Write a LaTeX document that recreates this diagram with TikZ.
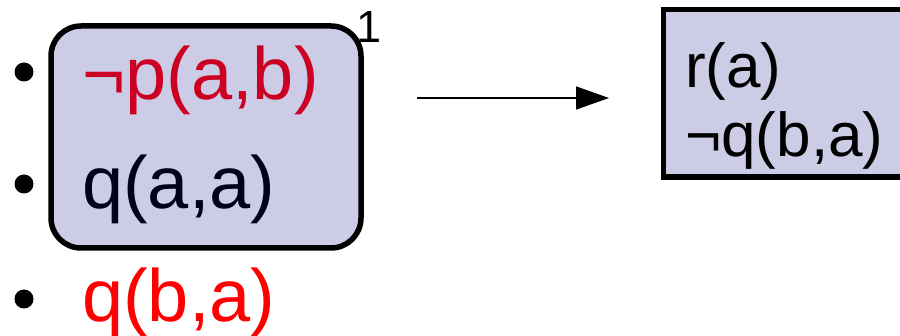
\documentclass[tikz,border=0pt]{standalone}
\usepackage{fontspec}
\setmainfont{Liberation Sans}
\usetikzlibrary{arrows.meta}
\definecolor{clausefill}{RGB}{204,204,230}
\definecolor{litred}{RGB}{204,0,34}
\definecolor{litbright}{RGB}{255,0,0}
\definecolor{litdark}{RGB}{0,0,26}
\tikzset{
  clausebox/.style={draw=black, line width=5.5pt, fill=clausefill, rounded corners=30pt, inner sep=0pt},
  resbox/.style={draw=black, line width=5.5pt, fill=clausefill, inner sep=0pt},
  lit/.style={anchor=base west, inner sep=0pt, font=\fontsize{74}{80}\selectfont},
  reslit/.style={anchor=base west, inner sep=0pt, font=\fontsize{62}{66}\selectfont, text=black},
  bulletdot/.style={circle, fill=black, inner sep=0pt, minimum size=19pt},
  tag/.style={anchor=base west, inner sep=0pt, font=\fontsize{45}{48}\selectfont},
  step arrow/.style={line width=1.5pt, -{Triangle[length=33pt, width=23pt]}}
}
\begin{document}
\begin{tikzpicture}[x=1pt, y=-1pt]
  \useasboundingbox (0,0) rectangle (900,336);
  \clip (0,0) rectangle (900,336);

  % clause with its three literals
  \node[clausebox, minimum width=310pt, minimum height=222pt] (clause) at (206,137) {};
  \node[bulletdot] (b1) at (24,72) {};
  \node[bulletdot] (b2) at (24,184) {};
  \node[bulletdot] (b3) at (24,299) {};
  \node[lit, text=litred] (l1) at (82,100) {¬p(a,b)};
  \node[lit, text=litdark] (l2) at (82,209) {q(a,a)};
  \node[lit, text=litbright] (l3) at (82,322) {q(b,a)};
  \node[tag] (t1) at (356,43) {1};

  % resulting clause
  \node[resbox, minimum width=280pt, minimum height=167.5pt, anchor=north west] (res) at (660.5,7) {};
  \node[reslit] (r1) at (685,88) {r(a)};
  \node[reslit] (r2) at (685,157) {¬q(b,a)};

  % derivation step
  \coordinate (arrowstart) at (417,98);
  \coordinate (arrowend) at (609,98);
  \draw[step arrow] (arrowstart) -- (arrowend);
\end{tikzpicture}
\end{document}
